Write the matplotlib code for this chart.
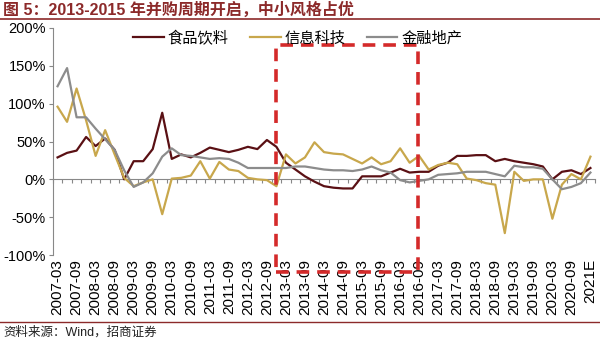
import numpy as np
import matplotlib
matplotlib.use("Agg")
import matplotlib.pyplot as plt
from matplotlib.patches import Rectangle

plt.rcParams['font.family'] = ['Liberation Sans', 'Noto Sans CJK SC', 'DejaVu Sans']

# quarterly categories, labels every half year
tick_labels = ["2007-03", "2007-09", "2008-03", "2008-09", "2009-03", "2009-09",
               "2010-03", "2010-09", "2011-03", "2011-09", "2012-03", "2012-09",
               "2013-03", "2013-09", "2014-03", "2014-09", "2015-03", "2015-09",
               "2016-03", "2016-09", "2017-03", "2017-09", "2018-03", "2018-09",
               "2019-03", "2019-09", "2020-03", "2020-09", "2021E"]

# values in %
food = [29, 35, 38, 56, 44, 54, 39, 0, 24, 24,
        40, 88, 27, 33, 29, 35, 42, 39, 36, 39,
        43, 40, 52, 43, 22, 13, 4, -3, -9, -11,
        -12, -12, 4, 4, 4, 9, 14, 9, 10, 10,
        18, 22, 31, 31, 32, 32, 24, 27, 24, 22,
        20, 17, 0, 10, 12, 7, 15]
tech = [96, 76, 120, 78, 31, 65, 33, 2, -9, -4,
        0, -46, 1, 2, 5, 24, 1, 23, 13, 11,
        2, 0, -1, -9, 33, 21, 29, 49, 36, 34,
        33, 27, 21, 29, 20, 24, 41, 22, 31, 13,
        19, 22, 20, 1, -1, -5, -7, -71, 10, -2,
        0, 0, -52, -7, 7, 0, 30]
finance = [123, 147, 82, 82, 67, 53, 39, 12, -10, -4,
           8, 30, 41, 32, 31, 29, 27, 28, 27, 22,
           15, 15, 15, 15, 15, 17, 17, 15, 13, 12,
           12, 11, 13, 17, 12, 9, -1, -4, -2, 0,
           6, 7, 8, 10, 10, 10, 7, 4, 18, 16,
           16, 14, 0, -13, -10, -5, 9]

# highlighted window (category index range, y range)
box_x = (23, 37.9)
box_y = (-123, 177)

maroon = "#8c2a2a"

fig = plt.figure(figsize=(6, 3.41), dpi=100)
ax = fig.add_axes([0.088, 0.252, 0.904, 0.666])

x = np.arange(len(food))
ax.plot(x, food, color="#5a1014", lw=1.6, label="食品饮料")
ax.plot(x, tech, color="#c8a74c", lw=1.6, label="信息科技")
ax.plot(x, finance, color="#8c8c8c", lw=1.6, label="金融地产")

ax.set_xlim(-0.5, len(food) - 0.5)
ax.set_ylim(-100, 200)
ax.set_yticks(np.arange(-100, 201, 50))
ax.set_yticklabels([f"{v}%" for v in range(-100, 201, 50)])
ax.tick_params(axis='y', labelsize=10.5, length=3, color="#888888", pad=2)

ax.set_xticks(np.arange(0, len(food), 2))
ax.set_xticklabels(tick_labels, rotation=90, fontsize=11)
ax.tick_params(axis='x', length=0, pad=3)

for s in ["top", "right", "bottom"]:
    ax.spines[s].set_visible(False)
ax.spines["left"].set_color("#888888")

# zero line with category ticks
zero = ax.secondary_xaxis(1 / 3)
zero.set_xticks(np.arange(-0.5, len(food), 1))
zero.tick_params(axis='x', direction='out', length=3, color="#888888", labelbottom=False)
zero.spines["bottom"].set_color("#888888")

ax.add_patch(Rectangle((box_x[0], box_y[0]), box_x[1] - box_x[0], box_y[1] - box_y[0],
                       fill=False, ec="#d42a2a", lw=2.6, ls=(0, (3.5, 2.2)),
                       clip_on=False, zorder=5))

ax.legend(loc="center left", bbox_to_anchor=(0.137, 0.955), ncol=3, frameon=False,
          fontsize=11, handlelength=2.0, columnspacing=1.4, handletextpad=0.25,
          borderaxespad=0)

fig.text(0.005, 0.972, "图 5：2013-2015 年并购周期开启，中小风格占优", fontsize=11.5,
         fontweight="bold", color=maroon, va="center", ha="left")
fig.add_artist(plt.Line2D([0, 1], [0.944, 0.944], color=maroon, lw=1.2))
fig.add_artist(plt.Line2D([0, 1], [0.055, 0.055], color=maroon, lw=1.0))
fig.text(0.005, 0.025, "资料来源：Wind，招商证券", fontsize=9, color="#222222",
         va="center", ha="left")

fig.savefig("out.png", dpi=100)
